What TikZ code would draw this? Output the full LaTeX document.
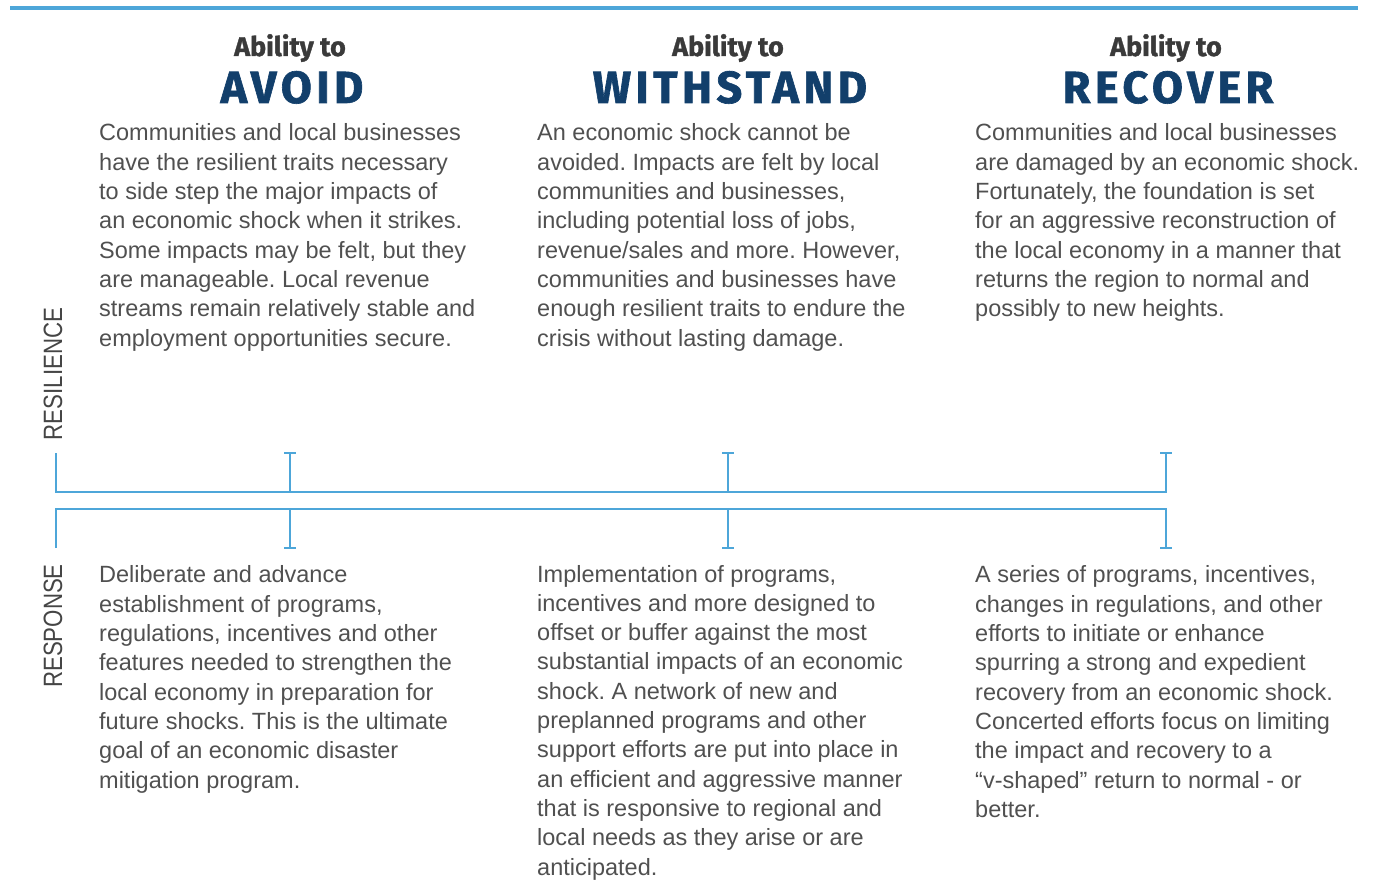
\documentclass[tikz,border=0pt]{standalone}
\usepackage{fontspec}
\setmainfont{Liberation Sans}
\newfontfamily\headfont[BoldFeatures={FakeBold=1.2}]{Fira Sans}
\newfontfamily\titlefont[LetterSpace=10,BoldFeatures={FakeBold=1.4}]{Fira Sans}
\definecolor{bodygray}{HTML}{505050}
\definecolor{navy}{HTML}{123F6B}
\definecolor{abgray}{HTML}{3A3A3A}
\definecolor{lblgray}{HTML}{454545}
\definecolor{lineblue}{HTML}{4DA6D9}
\begin{document}
\begin{tikzpicture}[x=1pt,y=-1pt,
  body/.style={anchor=base west, inner sep=0pt, align=left, text=bodygray,
    font=\fontsize{23.5}{29.3}\selectfont\frenchspacing},
  ability/.style={anchor=base, inner sep=0pt, text=abgray,
    font=\headfont\bfseries\fontsize{27}{30}\selectfont},
  title/.style={anchor=base, inner sep=0pt, text=navy,
    font=\titlefont\bfseries\fontsize{45}{50}\selectfont},
  sidelabel/.style={inner sep=0pt, text=lblgray, rotate=90,
    font=\fontsize{26.5}{30}\selectfont},
  br/.style={draw=lineblue, line width=2.6pt},
  topline/.style={draw=lineblue, line width=4.5pt}
]
\useasboundingbox (0,0) rectangle (1376,880);

% top rule
\draw[topline] (10,8) -- (1358,8);

% headers
\node[ability] (ab1) at (290,56) {Ability to};
\node[ability] (ab2) at (728,56) {Ability to};
\node[ability] (ab3) at (1166,56) {Ability to};
\node[title] (t1) at (292,103) {AVOID};
\node[title] (t2) at (730,103) {WITHSTAND};
\node[title] (t3) at (1168,103) {RECOVER};

% resilience texts (anchored at the baseline of the last line)
\node[body] (r1) at (99,346) {Communities and local businesses\\have the resilient traits necessary\\to side step the major impacts of\\an economic shock when it strikes.\\Some impacts may be felt, but they\\are manageable. Local revenue\\streams remain relatively stable and\\employment opportunities secure.};
\node[body] (r2) at (537,346) {An economic shock cannot be\\avoided. Impacts are felt by local\\communities and businesses,\\including potential loss of jobs,\\revenue/sales and more. However,\\communities and businesses have\\enough resilient traits to endure the\\crisis without lasting damage.};
\node[body] (r3) at (975,316.7) {Communities and local businesses\\are damaged by an economic shock.\\Fortunately, the foundation is set\\for an aggressive reconstruction of\\the local economy in a manner that\\returns the region to normal and\\possibly to new heights.};

% response texts
\node[body] (p1) at (99,788) {Deliberate and advance\\establishment of programs,\\regulations, incentives and other\\features needed to strengthen the\\local economy in preparation for\\future shocks. This is the ultimate\\goal of an economic disaster\\mitigation program.};
\node[body] (p2) at (537,875) {Implementation of programs,\\incentives and more designed to\\offset or buffer against the most\\substantial impacts of an economic\\shock. A network of new and\\preplanned programs and other\\support efforts are put into place in\\an efficient and aggressive manner\\that is responsive to regional and\\local needs as they arise or are\\anticipated.};
\node[body] (p3) at (975,817.3) {A series of programs, incentives,\\changes in regulations, and other\\efforts to initiate or enhance\\spurring a strong and expedient\\recovery from an economic shock.\\Concerted efforts focus on limiting\\the impact and recovery to a\\“v-shaped” return to normal - or\\better.};

% side labels
\node[sidelabel] (lres) at (53,374) {\scalebox{0.84}[1]{RESILIENCE}};
\node[sidelabel] (lrsp) at (53,626) {\scalebox{0.84}[1]{RESPONSE}};

% upper bracket
\draw[br] (56,453) -- (56,492) -- (1166,492) -- (1166,453);
\draw[br] (290,453) -- (290,492);
\draw[br] (728,453) -- (728,492);
\foreach \x in {290,728,1166} \draw[br, line width=2.2pt] (\x-6,453) -- (\x+6,453);

% lower bracket
\draw[br] (56,548) -- (56,509) -- (1166,509) -- (1166,548);
\draw[br] (290,509) -- (290,548);
\draw[br] (728,509) -- (728,548);
\foreach \x in {290,728,1166} \draw[br, line width=2.2pt] (\x-6,548) -- (\x+6,548);
\end{tikzpicture}
\end{document}
